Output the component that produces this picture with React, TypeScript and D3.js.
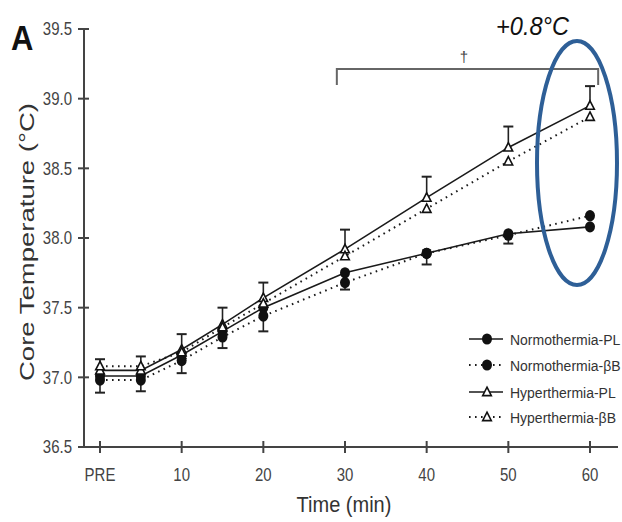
import React from "react";
import * as d3 from "d3";

const times = [0, 5, 10, 15, 20, 30, 40, 50, 60];
const xTickValues = [0, 10, 20, 30, 40, 50, 60];
const xTickLabels = ["PRE", "10", "20", "30", "40", "50", "60"];
const yTickValues = [36.5, 37.0, 37.5, 38.0, 38.5, 39.0, 39.5];

const normoPL = [37.01, 37.01, 37.16, 37.33, 37.5, 37.75, 37.89, 38.03, 38.08];
const normoBB = [36.98, 36.98, 37.12, 37.29, 37.44, 37.68, 37.89, 38.02, 38.16];
const normoBBErr = [0.09, 0.08, 0.09, 0.08, 0.11, 0.05, 0.08, 0.06, 0.0];
const hyperPL = [37.05, 37.05, 37.2, 37.38, 37.57, 37.92, 38.29, 38.65, 38.95];
const hyperPLErr = [0.08, 0.1, 0.11, 0.12, 0.11, 0.14, 0.15, 0.15, 0.14];
const hyperBB = [37.08, 37.08, 37.18, 37.36, 37.53, 37.87, 38.21, 38.55, 38.87];

const legendLabels = ["Normothermia-PL", "Normothermia-\u03b2B", "Hyperthermia-PL", "Hyperthermia-\u03b2B"];

const FONT = "'Liberation Sans', Arial, sans-serif";

export default function App() {
  const W = 622;
  const H = 522;
  const x = d3.scaleLinear().domain([0, 60]).range([100, 590]);
  const y = d3.scaleLinear().domain([36.5, 39.5]).range([447, 29]);
  const axisX = 84;
  const axisY = y(36.5);

  const line = (vals: number[]) =>
    d3.line<number>().x((_, i) => x(times[i])).y((d) => y(d))(vals) || "";

  const series = [
    { vals: normoPL, dotted: false, marker: "circle" },
    { vals: normoBB, dotted: true, marker: "circle" },
    { vals: hyperPL, dotted: false, marker: "tri" },
    { vals: hyperBB, dotted: true, marker: "tri" },
  ];

  const lineColor = "#1a1a1a";
  const triPath = (cx: number, cy: number, s = 4.8) =>
    `M${cx},${cy - s} L${cx + s * 0.9},${cy + s * 0.75} L${cx - s * 0.9},${cy + s * 0.75} Z`;

  const marker = (kind: string, cx: number, cy: number, key: string) =>
    kind === "circle" ? (
      <ellipse key={key} cx={cx} cy={cy} rx={5} ry={5.6} fill="#111" />
    ) : (
      <path key={key} d={triPath(cx, cy)} fill="#fff" stroke="#111" strokeWidth={1.6} />
    );

  const capW = 5;
  const stretch = (cx: number, cy: number, s: number) =>
    `translate(${cx},${cy}) scale(1,${s}) translate(${-cx},${-cy})`;

  return (
    <svg width={W} height={H} style={{ position: "absolute", left: 0, top: 0, background: "#fff" }} fontFamily={FONT}>
      {/* Panel label */}
      <text x={11} y={50} fontSize={31} fontWeight="bold" fill="#111" transform={stretch(11, 50, 1.12)}>A</text>

      {/* Y axis */}
      <line x1={axisX} x2={axisX} y1={y(39.5)} y2={axisY} stroke="#444" strokeWidth={2} />
      {yTickValues.map((v) => (
        <g key={v}>
          <line x1={axisX - 6} x2={axisX + 5} y1={y(v)} y2={y(v)} stroke="#444" strokeWidth={2} />
          <text x={72} y={y(v)} dy="0.36em" textAnchor="end" fontSize={15} fill="#444" transform={stretch(72, y(v), 1.18)}>
            {v.toFixed(1)}
          </text>
        </g>
      ))}
      <text
        transform={`translate(27,${(102 + 382) / 2}) rotate(-90)`}
        textAnchor="middle"
        dy="0.35em"
        fontSize={21}
        fill="#333"
        textLength={278}
        lengthAdjust="spacingAndGlyphs"
      >
        Core Temperature (°C)
      </text>

      {/* X axis */}
      <line x1={axisX - 6} x2={618} y1={axisY} y2={axisY} stroke="#444" strokeWidth={2.2} />
      {xTickValues.map((v, i) => (
        <g key={v}>
          <line x1={x(v)} x2={x(v)} y1={axisY - 6} y2={axisY + 6} stroke="#444" strokeWidth={2} />
          <text x={x(v)} y={475} textAnchor="middle" fontSize={15} fill="#444" dy="0.35em" transform={stretch(x(v), 475, 1.18)}>
            {xTickLabels[i]}
          </text>
        </g>
      ))}
      <text x={344} y={512} textAnchor="middle" fontSize={20} fill="#333" transform={stretch(344, 512, 1.1)}>Time (min)</text>

      {/* Lines */}
      {series.map((s, i) => (
        <path
          key={i}
          d={line(s.vals)}
          fill="none"
          stroke={lineColor}
          strokeWidth={s.dotted ? 2 : 1.6}
          strokeDasharray={s.dotted ? "1.6,4.4" : undefined}
        />
      ))}

      {/* Error bars */}
      {times.map((t, i) => (
        <g key={"eh" + t}>
          <line x1={x(t)} x2={x(t)} y1={y(hyperPL[i])} y2={y(hyperPL[i] + hyperPLErr[i])} stroke="#222" strokeWidth={1.6} />
          <line x1={x(t) - capW} x2={x(t) + capW} y1={y(hyperPL[i] + hyperPLErr[i])} y2={y(hyperPL[i] + hyperPLErr[i])} stroke="#222" strokeWidth={2} />
        </g>
      ))}
      {times.map((t, i) =>
        normoBBErr[i] > 0 ? (
          <g key={"en" + t}>
            <line x1={x(t)} x2={x(t)} y1={y(normoBB[i])} y2={y(normoBB[i] - normoBBErr[i])} stroke="#222" strokeWidth={1.6} />
            <line x1={x(t) - capW} x2={x(t) + capW} y1={y(normoBB[i] - normoBBErr[i])} y2={y(normoBB[i] - normoBBErr[i])} stroke="#222" strokeWidth={2} />
          </g>
        ) : null
      )}

      {/* Markers */}
      {series.map((s, si) => s.vals.map((v, i) => marker(s.marker, x(times[i]), y(v), `m${si}-${i}`)))}

      {/* Significance bracket */}
      <path d={`M${x(29)},${85} V69 H${x(61)} V85`} fill="none" stroke="#666" strokeWidth={2} />
      <text x={464} y={62} textAnchor="middle" fontSize={15} fill="#444">†</text>

      {/* Annotation */}
      <text x={496} y={35} fontSize={25} fontStyle="italic" fill="#111" textLength={73} lengthAdjust="spacingAndGlyphs">+0.8°C</text>
      <ellipse cx={577} cy={163} rx={40} ry={122} fill="none" stroke="#2e5f97" strokeWidth={4} />

      {/* Legend */}
      {legendLabels.map((lab, i) => {
        const ly = [339, 365, 392, 417][i];
        const s = series[i];
        return (
          <g key={lab}>
            <line
              x1={469}
              x2={503}
              y1={ly}
              y2={ly}
              stroke={lineColor}
              strokeWidth={s.dotted ? 2 : 1.6}
              strokeDasharray={s.dotted ? "1.6,4.4" : undefined}
            />
            {marker(s.marker, 487, ly, "lm" + i)}
            <text x={510} y={ly} dy="0.36em" fontSize={14} fill="#333" transform={stretch(510, ly, 1.1)}>{lab}</text>
          </g>
        );
      })}
    </svg>
  );
}
